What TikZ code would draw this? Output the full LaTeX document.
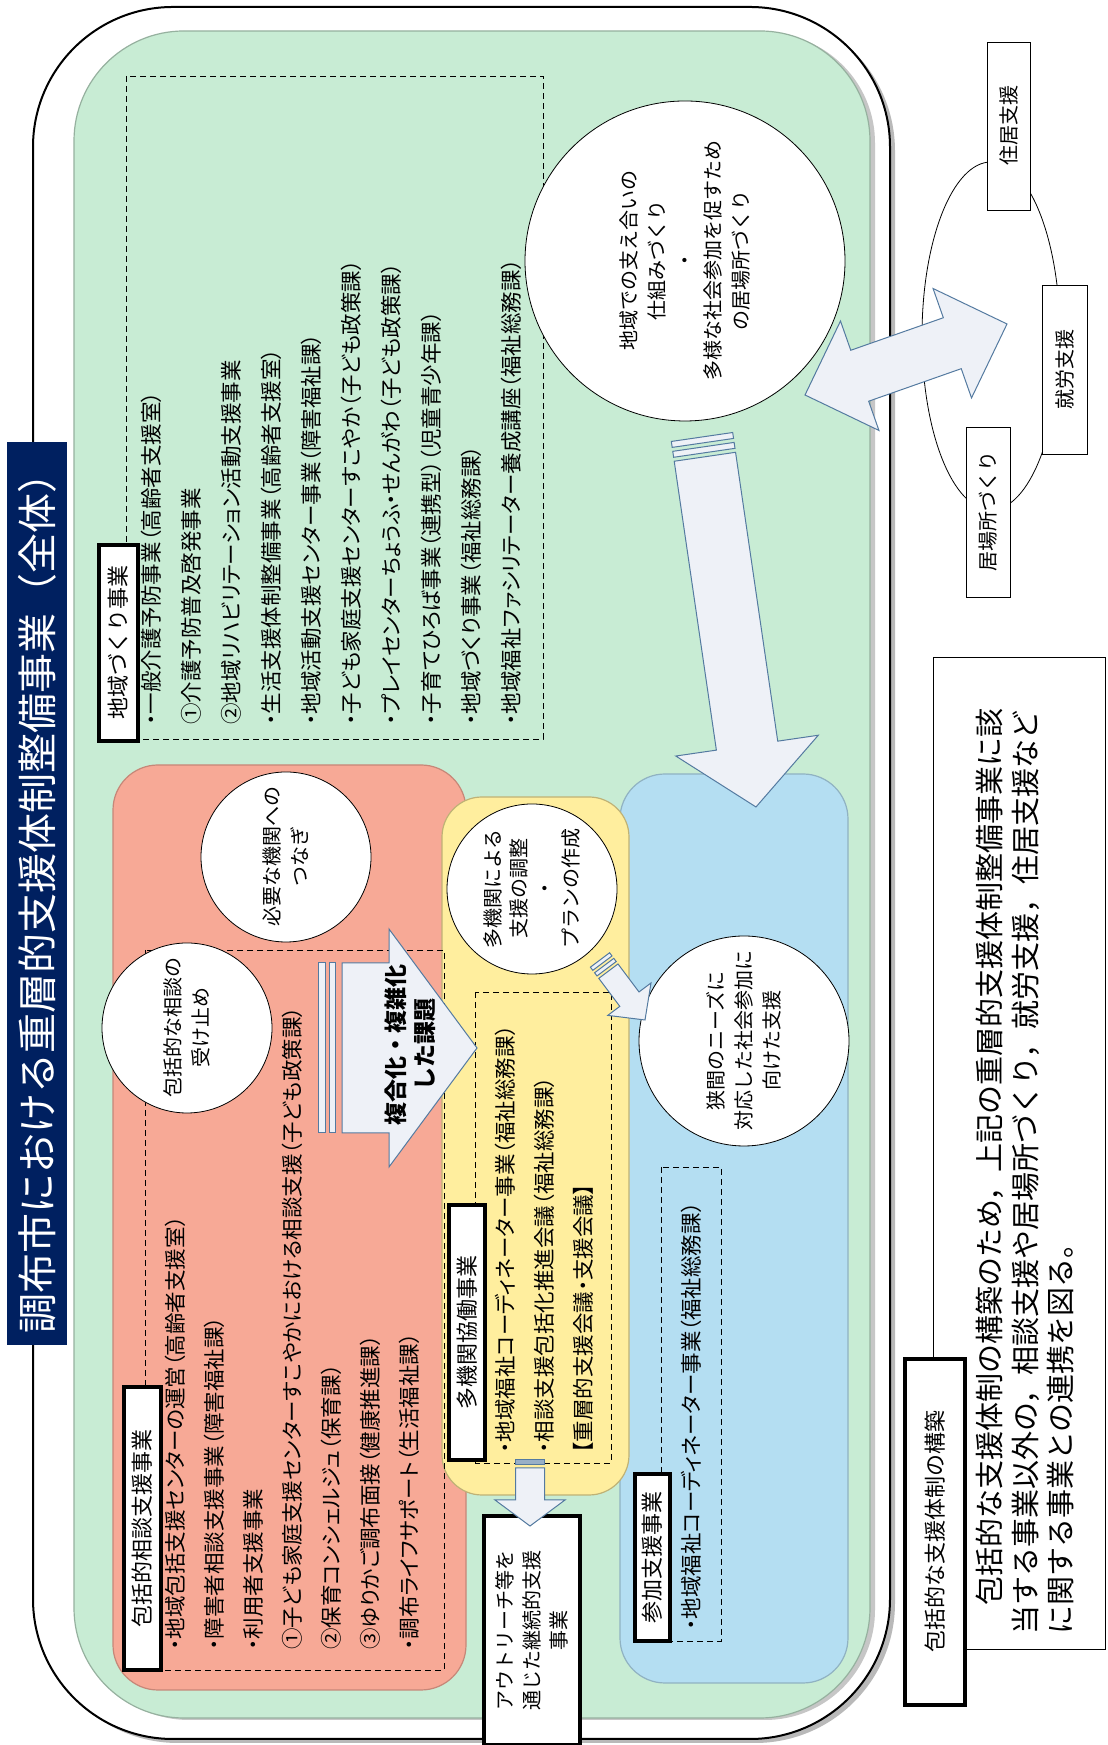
\documentclass[tikz,border=0pt]{standalone}
\usepackage{fontspec}
\setmainfont{Noto Sans CJK JP}
\newfontfamily\propfont[RawFeature=+palt]{Noto Sans CJK JP}
\usepackage{tikz}
\usetikzlibrary{shapes.geometric, positioning, calc}

\definecolor{navy}{RGB}{0,32,96}
\definecolor{zgreen}{RGB}{200,236,212}
\definecolor{zred}{RGB}{247,169,150}
\definecolor{zyellow}{RGB}{255,238,158}
\definecolor{zblue}{RGB}{180,222,242}
\definecolor{arrfill}{RGB}{238,241,247}
\definecolor{arrline}{RGB}{84,122,160}

% block arrow from #2 to #3: shaft half width #4, head half width #5, head length #6
\newcommand{\blockarrow}[6][]{%
  \path ($(#3)!#6!(#2)$) coordinate (ahead);
  \draw[#1] ($(#2)!#4!90:(#3)$) -- ($(ahead)!#4!90:(#3)$) -- ($(ahead)!#5!90:(#3)$)
    -- (#3) -- ($(ahead)!#5!-90:(#3)$) -- ($(ahead)!#4!-90:(#3)$) -- ($(#2)!#4!-90:(#3)$) -- cycle;
}
% double headed block arrow between #2 and #3
\newcommand{\dblarrow}[6][]{%
  \path ($(#2)!#6!(#3)$) coordinate (dheadA) ($(#3)!#6!(#2)$) coordinate (dheadB);
  \draw[#1] (#2) -- ($(dheadA)!#5!90:(#3)$) -- ($(dheadA)!#4!90:(#3)$)
    -- ($(dheadB)!#4!-90:(#2)$) -- ($(dheadB)!#5!-90:(#2)$) -- (#3)
    -- ($(dheadB)!#5!90:(#2)$) -- ($(dheadB)!#4!90:(#2)$)
    -- ($(dheadA)!#4!-90:(#3)$) -- ($(dheadA)!#5!-90:(#3)$) -- cycle;
}
% stripe of a striped arrow, between distances #5 and #6 from #2
\newcommand{\stripebar}[6][]{%
  \path ($(#2)!#5!(#3)$) coordinate (sa) ($(#2)!#6!(#3)$) coordinate (sb);
  \draw[#1] ($(sa)!#4!90:(#3)$) -- ($(sb)!#4!90:(#3)$) -- ($(sb)!#4!-90:(#3)$) -- ($(sa)!#4!-90:(#3)$) -- cycle;
}

\begin{document}
\begin{tikzpicture}[x=1pt, y=1pt,
        frame/.style={rectangle, draw, line width=2pt, fill=white, rounded corners=140pt},
        zone/.style={rectangle, line width=1.2pt, rounded corners=45pt},
        dashbox/.style={rectangle, draw, dash pattern=on 6pt off 4pt, line width=0.9pt},
        tagbox/.style={rectangle, draw, line width=3.5pt, fill=white, inner sep=0pt, font=\fontsize{22}{26}\selectfont},
        listtext/.style={anchor=west, align=left, inner sep=0pt, font=\propfont\fontsize{21.5}{39}\selectfont},
        bubble/.style={circle, draw, fill=white, line width=0.8pt, align=center, inner sep=0pt, font=\fontsize{20}{28}\selectfont},
        smallbox/.style={rectangle, draw, fill=white, line width=0.8pt, inner sep=0pt, font=\fontsize{20}{24}\selectfont},
        blockarr/.style={draw=arrline, fill=arrfill, line width=1pt}
    ]
    \useasboundingbox (0,0) rectangle (1108,1745);
    \begin{scope}[rotate=90, transform shape]
        % outer frame and green area
        \node[frame, fill=gray!55, draw=none, minimum width=1732pt, minimum height=857pt] (outershadow) at (868,-466.5) {};
        \node[frame, minimum width=1732pt, minimum height=857pt] (outer) at (872,-461.5) {};
        \node[zone, rounded corners=110pt, fill=gray!45, minimum width=1687pt, minimum height=796pt] (greenshadow) at (868.5,-477) {};
        \node[zone, rounded corners=110pt, fill=zgreen, draw=zgreen!75!black, minimum width=1687pt, minimum height=796pt] (green) at (870.5,-472) {};
        \node[fill=navy, text=white, minimum width=903pt, minimum height=60pt, inner sep=0pt, font=\fontsize{40}{44}\selectfont] (title) at (851.5,-37) {調布市における重層的支援体制整備事業（全体）};

        % 地域づくり事業
        \node[dashbox, minimum width=663pt, minimum height=417pt] (chiikibox) at (1337.5,-334.5) {};
        \node[listtext, font=\propfont\fontsize{21.5}{40}\selectfont] (chiikilist) at (1020,-331) {・一般介護予防事業（高齢者支援室）\\①介護予防普及啓発事業\\②地域リハビリテーション活動支援事業\\・生活支援体制整備事業（高齢者支援室）\\・地域活動支援センター事業（障害福祉課）\\・子ども家庭支援センターすこやか（子ども政策課）\\・プレイセンターちょうふ・せんがわ（子ども政策課）\\・子育てひろば事業（連携型）（児童青少年課）\\・地域づくり事業（福祉総務課）\\・地域福祉ファシリテーター養成講座（福祉総務課）};
        \node[tagbox, minimum width=196pt, minimum height=39pt] (chiikitag) at (1102,-118.5) {地域づくり事業};
        \node[bubble, minimum size=320pt] (ibasho) at (1484,-685) {地域での支え合いの\\仕組みづくり\\・\\多様な社会参加を促すため\\の居場所づくり};

        % 連携先
        \node[ellipse, draw, line width=0.8pt, minimum width=348pt, minimum height=138pt] (renkei) at (1409,-991) {};
        \node[smallbox, minimum width=168pt, minimum height=43pt] (jukyo) at (1619,-1009) {住居支援};
        \node[smallbox, minimum width=169pt, minimum height=45pt] (shuro) at (1375.5,-1064.5) {就労支援};
        \node[smallbox, minimum width=170pt, minimum height=44pt] (ibabox) at (1233,-988) {居場所づくり};

        % three zones
        \node[zone, fill=zred, draw=zred!80!black, minimum width=925pt, minimum height=353pt] (soudan) at (517.5,-289.5) {};
        \node[zone, fill=zblue, draw=zblue!80!black, minimum width=909pt, minimum height=228pt] (sanka) at (516.5,-734) {};
        \node[zone, rounded corners=40pt, fill=zyellow, draw=zyellow!75!black, minimum width=698pt, minimum height=187pt] (takikan) at (599,-535.5) {};

        \node[dashbox, minimum width=720pt, minimum height=299pt] (soudanbox) at (435,-294.5) {};
        \node[dashbox, minimum width=471pt, minimum height=136pt] (takikanbox) at (517.5,-543) {};
        \node[dashbox, minimum width=474pt, minimum height=60pt] (sankabox) at (341,-691) {};

        \node[bubble, minimum size=170pt] (uketome) at (717,-187) {包括的な相談の\\受け止め};
        \node[bubble, minimum size=170pt] (tsunagi) at (888,-286) {必要な機関への\\つなぎ};
        \node[bubble, minimum size=170pt, font=\fontsize{20}{26}\selectfont] (chosei) at (856,-532) {多機関による\\支援の調整\\・\\プランの作成};
        \node[bubble, minimum size=210pt] (hazama) at (704,-744) {狭間のニーズに\\対応した社会参加に\\向けた支援};

        \node[listtext] (soudanlist) at (95,-292) {・地域包括支援センターの運営（高齢者支援室）\\・障害者相談支援事業（障害福祉課）\\・利用者支援事業\\①子ども家庭支援センターすこやかにおける相談支援（子ども政策課）\\②保育コンシェルジュ（保育課）\\③ゆりかご調布面接（健康推進課）\\・調布ライフサポート（生活福祉課）};
        \node[listtext] (takikanlist) at (292,-544) {・地域福祉コーディネーター事業（福祉総務課）\\・相談支援包括化推進会議（福祉総務課）\\【重層的支援会議・支援会議】};
        \node[listtext] (sankalist) at (115,-691) {・地域福祉コーディネーター事業（福祉総務課）};

        \node[tagbox, minimum width=283pt, minimum height=37pt] (soudantag) at (216.5,-142.5) {包括的相談支援事業};
        \node[tagbox, minimum width=255pt, minimum height=36pt] (takikantag) at (412.5,-467) {多機関協働事業};
        \node[tagbox, minimum width=167pt, minimum height=35pt] (sankatag) at (187.5,-652.5) {参加支援事業};
        \node[tagbox, minimum width=229pt, minimum height=96pt, align=center, font=\fontsize{20}{27}\selectfont] (outreach) at (114.5,-532) {アウトリーチ等を\\通じた継続的支援\\事業};

        % 包括的な支援体制の構築
        \node[rectangle, draw, line width=0.8pt, minimum width=992pt, minimum height=172pt] (notebox) at (592,-1019) {};
        \node[listtext, font=\fontsize{29}{35.5}\selectfont] (notetext) at (110,-1025) {　包括的な支援体制の構築のため，上記の重層的支援体制整備事業に該\\当する事業以外の，相談支援や居場所づくり，就労支援，住居支援など\\に関する事業との連携を図る。};
        \node[tagbox, minimum width=346pt, minimum height=60pt] (notetag) at (213,-935) {包括的な支援体制の構築};

        % block arrows
        \coordinate (longS) at (1308,-702);
        \coordinate (longE) at (938,-756);
        \stripebar[blockarr]{longS}{longE}{31pt}{0pt}{6pt}
        \stripebar[blockarr]{longS}{longE}{31pt}{10pt}{16pt}
        \path ($(longS)!20pt!(longE)$) coordinate (longS2);
        \blockarrow[blockarr]{longS2}{longE}{31pt}{72pt}{62pt}

        \coordinate (dblA) at (1350,-805);
        \coordinate (dblB) at (1421,-1007);
        \dblarrow[blockarr]{dblA}{dblB}{27pt}{58pt}{58pt}

        \coordinate (fukuS) at (697,-318);
        \coordinate (fukuE) at (697,-477);
        \stripebar[blockarr]{fukuS}{fukuE}{85pt}{0pt}{7pt}
        \stripebar[blockarr]{fukuS}{fukuE}{85pt}{11pt}{17pt}
        \path ($(fukuS)!24pt!(fukuE)$) coordinate (fukuS2);
        \blockarrow[blockarr]{fukuS2}{fukuE}{85pt}{119pt}{88pt}
        \node[font=\bfseries\fontsize{23}{29}\selectfont, align=center] (fukugo) at (700,-410) {複合化・複雑化\\した課題};

        \coordinate (choS) at (785,-600);
        \coordinate (choE) at (725,-645);
        \stripebar[blockarr]{choS}{choE}{12pt}{0pt}{4pt}
        \stripebar[blockarr]{choS}{choE}{12pt}{7pt}{11pt}
        \path ($(choS)!14pt!(choE)$) coordinate (choS2);
        \blockarrow[blockarr]{choS2}{choE}{12pt}{27pt}{26pt}

        \coordinate (outS) at (285,-530);
        \coordinate (outE) at (219,-530);
        \stripebar[blockarr, fill=arrline!60]{outS}{outE}{14.5pt}{0pt}{5pt}
        \path ($(outS)!8pt!(outE)$) coordinate (outS2);
        \blockarrow[blockarr]{outS2}{outE}{14.5pt}{35pt}{26pt}
    \end{scope}
\end{tikzpicture}
\end{document}
